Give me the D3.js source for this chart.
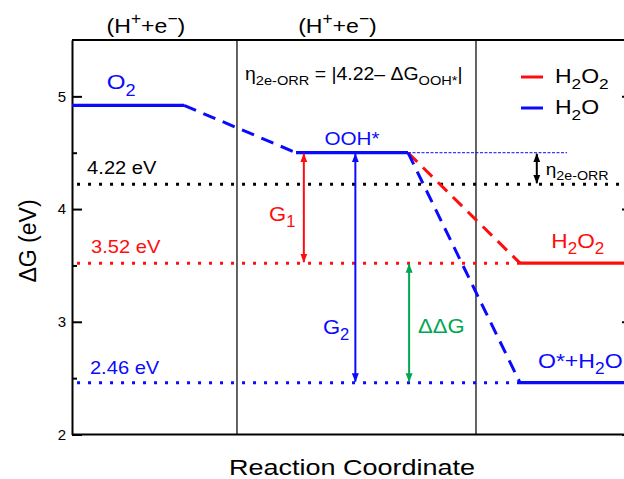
<!DOCTYPE html>
<html>
<head>
<meta charset="utf-8">
<script src="https://cdn.jsdelivr.net/npm/d3@7"></script>
<style>
  body { margin: 0; background: #fff; }
  svg { display: block; font-family: "Liberation Sans", Arial, sans-serif; }
</style>
</head>
<body>
<div id="chart"></div>
<script>
// free energy levels along the ORR path (eV)
var levelNames = ["O2", "OOH*", "H2O2", "O*+H2O"];
var levelEnergy = [4.92, 4.50, 3.52, 2.46];
var levelStep = [0, 1, 2, 2];

// dashed connectors: from level -> to level
var linkFrom = [0, 1, 1];
var linkTo = [1, 2, 3];

// reference energies drawn as dotted lines
var refEnergy = [4.22, 3.52, 2.46];
var refLabels = ["4.22 eV", "3.52 eV", "2.46 eV"];

// double arrows between energies
var arrowNames = ["G1", "G2", "ΔΔG", "eta"];
var arrowFrom = [4.50, 4.50, 3.52, 4.50];
var arrowTo = [3.52, 2.46, 2.46, 4.22];

var yTicks = [2, 3, 4, 5];
var yMinor = [2.5, 3.5, 4.5];
var legendNames = ["H2O2", "H2O"];

var W = 624, H = 479;
var blue = "#0a0aff", red = "#ff0d0d", green = "#00a651";
var levelColor = [blue, blue, red, blue];
var linkColor = [blue, red, blue];
var refColor = ["#000", red, blue];
var arrowColor = [red, blue, green, "#000"];
var arrowPos = [2.07, 2.53, 3.01, 4.15];

var x = d3.scaleLinear().domain([0, 5]).range([72, 632]);
var y = d3.scaleLinear().domain([2, 5.5]).range([434.5, 40]);

var svg = d3.select("#chart").append("svg")
    .attr("width", W)
    .attr("height", H);

var defs = svg.append("defs");
arrowColor.forEach(function(c, i) {
  defs.append("marker")
      .attr("id", "head" + i)
      .attr("viewBox", "0 -4 9 8")
      .attr("refX", 8.5).attr("refY", 0)
      .attr("markerWidth", 9).attr("markerHeight", 8)
      .attr("markerUnits", "userSpaceOnUse")
      .attr("orient", "auto-start-reverse")
    .append("path")
      .attr("d", "M0,-3.5L9,0L0,3.5Z")
      .attr("fill", c);
});

// text with sub/superscripts, stretched a bit wider like the original
function rich(sel, px, py, parts, size, color, anchor, stretch) {
  var t = sel.append("text")
      .attr("transform", "translate(" + px + "," + py + ") scale(" + (stretch || 1.15) + ",1)")
      .attr("font-size", size)
      .attr("fill", color)
      .attr("text-anchor", anchor || "start");
  var shift = 0;
  parts.forEach(function(p) {
    var s = typeof p === "string" ? [p, ""] : p;
    var target = s[1] === "sub" ? size * 0.3 : s[1] === "sup" ? -size * 0.42 : 0;
    t.append("tspan")
        .attr("dy", target - shift)
        .attr("font-size", s[1] ? size * 0.75 : size)
        .text(s[0]);
    shift = target;
  });
  return t;
}

// section dividers
[1.473, 3.607].forEach(function(d) {
  svg.append("line")
      .attr("x1", x(d)).attr("x2", x(d))
      .attr("y1", y(5.5)).attr("y2", y(2))
      .attr("stroke", "#222").attr("stroke-width", 1.4);
});

// frame
svg.append("line").attr("x1", x(0)).attr("x2", x(5)).attr("y1", y(5.5)).attr("y2", y(5.5))
    .attr("stroke", "#000").attr("stroke-width", 2);
svg.append("line").attr("x1", x(0)).attr("x2", x(5)).attr("y1", y(2)).attr("y2", y(2))
    .attr("stroke", "#000").attr("stroke-width", 2);

var yAxis = svg.append("g")
    .attr("transform", "translate(" + x(0) + ",0)")
    .call(d3.axisLeft(y).tickValues(yTicks).tickSize(-10).tickPadding(6).tickSizeOuter(0).tickFormat(d3.format("d")));
yAxis.select(".domain").attr("stroke-width", 2);
yAxis.selectAll(".tick line").attr("stroke-width", 2);
yAxis.selectAll(".tick text").attr("font-size", 15).attr("fill", "#000")
    .attr("font-family", "Liberation Sans, Arial, sans-serif");

var yMinorAxis = svg.append("g")
    .attr("transform", "translate(" + x(0) + ",0)")
    .call(d3.axisLeft(y).tickValues(yMinor).tickSize(-5).tickSizeOuter(0).tickFormat(""));
yMinorAxis.select(".domain").remove();
yMinorAxis.selectAll(".tick line").attr("stroke-width", 2);

var yRight = svg.append("g")
    .attr("transform", "translate(" + x(5) + ",0)")
    .call(d3.axisRight(y).tickValues(yTicks).tickSize(-10).tickSizeOuter(0).tickFormat(""));
yRight.select(".domain").attr("stroke-width", 2);
yRight.selectAll(".tick line").attr("stroke-width", 2);
var yRightMinor = svg.append("g")
    .attr("transform", "translate(" + x(5) + ",0)")
    .call(d3.axisRight(y).tickValues(yMinor).tickSize(-5).tickSizeOuter(0).tickFormat(""));
yRightMinor.select(".domain").remove();
yRightMinor.selectAll(".tick line").attr("stroke-width", 2);

// dotted reference lines
var refEnd = [5, 4, 4];
svg.selectAll(".ref")
    .data(refEnergy)
  .enter().append("line")
    .attr("class", "ref")
    .attr("x1", x(0.045))
    .attr("x2", function(d, i) { return x(refEnd[i]); })
    .attr("y1", function(d) { return y(d); })
    .attr("y2", function(d) { return y(d); })
    .attr("stroke", function(d, i) { return refColor[i]; })
    .attr("stroke-width", 3)
    .attr("stroke-dasharray", "3,8");

var refDx = [0.135, 0.17, 0.16];
var refDy = [-10, -10.5, -9];
refEnergy.forEach(function(d, i) {
  rich(svg, x(refDx[i]), y(d) + refDy[i], [refLabels[i]], 17.5, refColor[i]);
});

// thin guide from OOH* toward the eta arrow
svg.append("line")
    .attr("x1", x(3)).attr("x2", x(4.42))
    .attr("y1", y(levelEnergy[1])).attr("y2", y(levelEnergy[1]))
    .attr("stroke", blue).attr("stroke-width", 1)
    .attr("stroke-dasharray", "3,1.5");

// dashed connectors
svg.selectAll(".link")
    .data(linkFrom)
  .enter().append("line")
    .attr("class", "link")
    .attr("x1", function(d) { return x(levelStep[d] * 2 + 1); })
    .attr("y1", function(d) { return y(levelEnergy[d]); })
    .attr("x2", function(d, i) { return x(levelStep[linkTo[i]] * 2); })
    .attr("y2", function(d, i) { return y(levelEnergy[linkTo[i]]); })
    .attr("stroke", function(d, i) { return linkColor[i]; })
    .attr("stroke-width", 3)
    .attr("stroke-dasharray", "13,8");

// energy levels
svg.selectAll(".level")
    .data(levelEnergy)
  .enter().append("line")
    .attr("class", "level")
    .attr("x1", function(d, i) { return x(levelStep[i] * 2); })
    .attr("x2", function(d, i) { return x(levelStep[i] * 2 + 1); })
    .attr("y1", function(d) { return y(d); })
    .attr("y2", function(d) { return y(d); })
    .attr("stroke", function(d, i) { return levelColor[i]; })
    .attr("stroke-width", 3.2);

// level labels
rich(svg, x(0.31), y(levelEnergy[0]) - 16, ["O", ["2", "sub"]], 21, blue);
rich(svg, x(2.5), y(levelEnergy[1]) - 8, ["OOH*"], 18, blue, "middle");
rich(svg, x(4.28), y(levelEnergy[2]) - 15, ["H", ["2", "sub"], "O", ["2", "sub"]], 21, red, "start", 1.08);
rich(svg, x(4.16), y(levelEnergy[3]) - 15, ["O*+H", ["2", "sub"], "O"], 21, blue, "start", 1.1);

// arrows
svg.selectAll(".arrow")
    .data(arrowFrom)
  .enter().append("line")
    .attr("class", "arrow")
    .attr("x1", function(d, i) { return x(arrowPos[i]); })
    .attr("x2", function(d, i) { return x(arrowPos[i]); })
    .attr("y1", function(d) { return y(d) + 1; })
    .attr("y2", function(d, i) { return y(arrowTo[i]) - 1; })
    .attr("stroke", function(d, i) { return arrowColor[i]; })
    .attr("stroke-width", 2)
    .attr("marker-start", function(d, i) { return "url(#head" + i + ")"; })
    .attr("marker-end", function(d, i) { return "url(#head" + i + ")"; });

rich(svg, x(1.76), y(4.0) + 12, ["G", ["1", "sub"]], 21, red, "start", 1.05);
rich(svg, x(2.24), y(2.99) + 11, ["G", ["2", "sub"]], 21, blue, "start", 1.05);
rich(svg, x(3.09), y(2.99) + 10, ["ΔΔG"], 21, green, "start", 1.05);
rich(svg, x(4.23), y(4.22) - 9, ["η", ["2e-ORR", "sub"]], 17, "#000", "start", 1.12);

// formula
rich(svg, x(1.545), 80, ["η", ["2e-ORR", "sub"], " = |4.22– ΔG", ["OOH*", "sub"], "|"], 18, "#000", "start", 1.08);

// step labels on top
[0.66, 2.37].forEach(function(d) {
  rich(svg, x(d), 33, ["(H", ["+", "sup"], "+e", ["−", "sup"], ")"], 21, "#000", "middle", 1.1);
});

// legend
var legendColor = [red, blue];
legendNames.forEach(function(n, i) {
  var ly = 77 + i * 31;
  svg.append("line")
      .attr("x1", 521).attr("x2", 543)
      .attr("y1", ly).attr("y2", ly)
      .attr("stroke", legendColor[i]).attr("stroke-width", 3);
  var parts = i === 0 ? ["H", ["2", "sub"], "O", ["2", "sub"]] : ["H", ["2", "sub"], "O"];
  rich(svg, 555, ly + 6, parts, 20, "#000", "start", 1.15);
});

// axis titles
svg.append("text")
    .attr("transform", "translate(36,241) rotate(-90)")
    .attr("text-anchor", "middle")
    .attr("font-size", 23)
    .text("ΔG (eV)");
rich(svg, 352, 475, ["Reaction Coordinate"], 22.5, "#000", "middle", 1.2);
</script>
</body>
</html>
